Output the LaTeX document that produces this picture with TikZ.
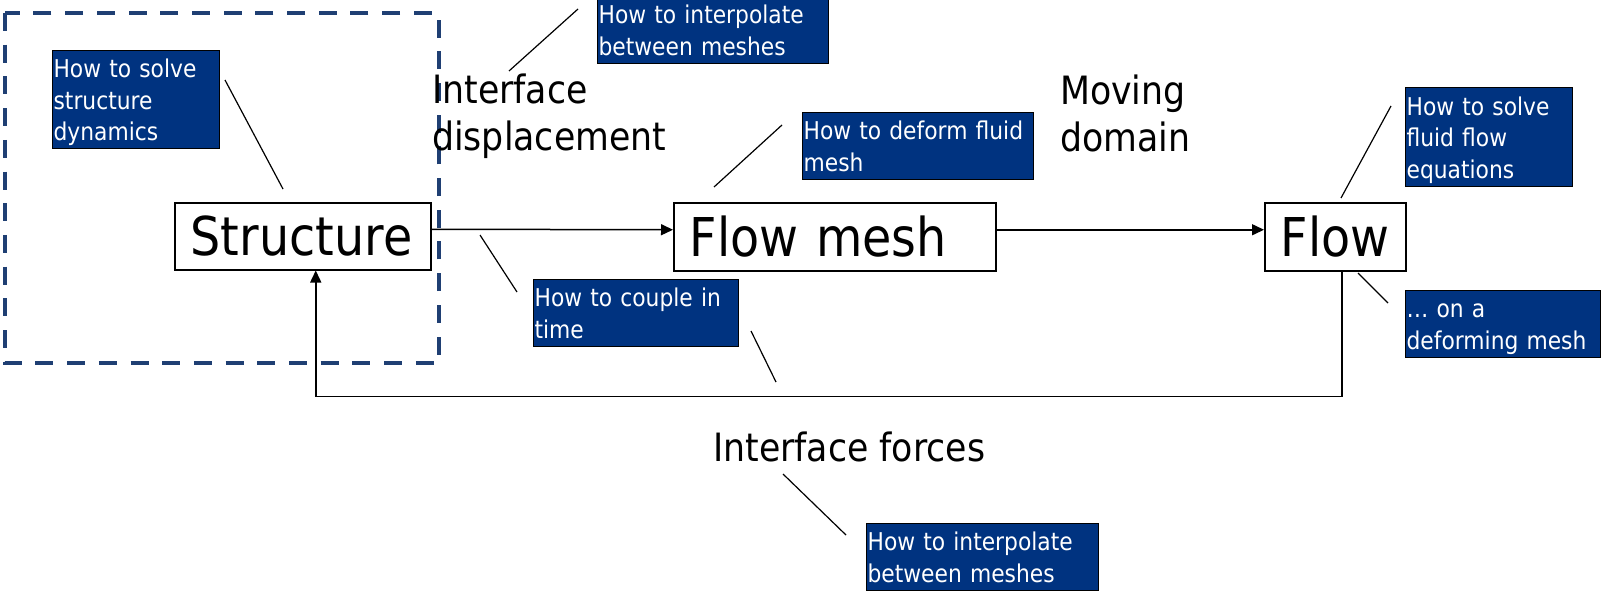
\documentclass[tikz,border=0pt]{standalone}
\usepackage{fontspec}
\setmainfont{DejaVu Sans}[FakeStretch=0.89]
\usetikzlibrary{arrows.meta}
\definecolor{noteblue}{HTML}{003380}
\definecolor{framenavy}{HTML}{1F3F73}

\begin{document}
\begin{tikzpicture}[x=1pt,y=-1pt,
  block/.style={draw=black, line width=1.5pt, fill=white, anchor=north west,
    inner xsep=16pt, inner ysep=0pt, align=left,
    font=\fontsize{53.5}{60}\selectfont},
  note/.style={draw=black, line width=1.2pt, fill=noteblue, text=white,
    anchor=north west, inner xsep=1pt, inner ysep=0pt, align=left,
    font=\fontsize{24.5}{31.6}\selectfont,
    execute at begin node=\rule{0pt}{27pt},
    execute at end node=\rule[-8pt]{0pt}{8pt}},
  bigtext/.style={anchor=north west, inner sep=0pt, align=left,
    font=\fontsize{39}{46.5}\selectfont, execute at begin node=\rule{0pt}{32pt}},
  flowarrow/.style={line width=1.5pt, -{Triangle[length=12pt,width=11pt]}},
  leader/.style={line width=1.2pt},
]
\useasboundingbox (0,0) rectangle (1610,592);

% structure solver group
\draw[framenavy, line width=3.3pt, dash pattern=on 18pt off 13.7pt]
  (5,13) rectangle (439,363);

% main blocks
\node[block, text width=224pt, minimum height=67pt] (s)  at (174,202) {Structure};
\node[block, text width=290pt, minimum height=68pt] (fm) at (673,202) {Flow mesh};
\node[block, text width=109pt, minimum height=68pt] (f)  at (1264,202) {Flow};

% data passed between the solvers
\node[bigtext] (disp)  at (432,74)  {Interface\\displacement};
\node[bigtext] (mdom)  at (1060,75) {Moving\\domain};
\node[bigtext] (force) at (713,429) {Interface forces};

\draw[flowarrow] ([yshift=7pt]s.east) -- ([yshift=7pt]fm.west);
\draw[flowarrow] ([yshift=7pt]fm.east) -- ([yshift=7pt]f.west);
\draw[flowarrow] ([xshift=6.5pt]f.south) -- ++(0,125) -| ([xshift=13pt]s.south);

% open questions
\node[note, text width=165pt, minimum height=98pt] (q1) at (52,50)   {How to solve\\structure\\dynamics};
\node[note, text width=229pt, minimum height=67pt] (q2) at (597,-4)  {How to interpolate\\between meshes};
\node[note, text width=229pt, minimum height=67pt] (q3) at (802,112) {How to deform fluid\\mesh};
\node[note, text width=165pt, minimum height=99pt] (q4) at (1405,87) {How to solve\\fluid flow\\equations};
\node[note, text width=193pt, minimum height=67pt] (q5) at (1405,290) {\dots\ on a\\deforming mesh};
\node[note, text width=203pt, minimum height=67pt] (q6) at (533,279) {How to couple in\\time};
\node[note, text width=230pt, minimum height=66pt] (q7) at (866,523) {How to interpolate\\between meshes};

% leader lines
\coordinate (a1) at (225,80);   \coordinate (b1) at (283,189);
\coordinate (a2) at (578,9);    \coordinate (b2) at (509,71);
\coordinate (a3) at (782,125);  \coordinate (b3) at (714,187);
\coordinate (a4) at (1391,106); \coordinate (b4) at (1341,198);
\coordinate (a5) at (1358,273); \coordinate (b5) at (1388,303);
\coordinate (a6) at (480,235);  \coordinate (b6) at (517,292);
\coordinate (a7) at (751,331);  \coordinate (b7) at (776,382);
\coordinate (a8) at (783,474);  \coordinate (b8) at (846,535);
\foreach \i in {1,...,8} \draw[leader] (a\i) -- (b\i);
\end{tikzpicture}
\end{document}
